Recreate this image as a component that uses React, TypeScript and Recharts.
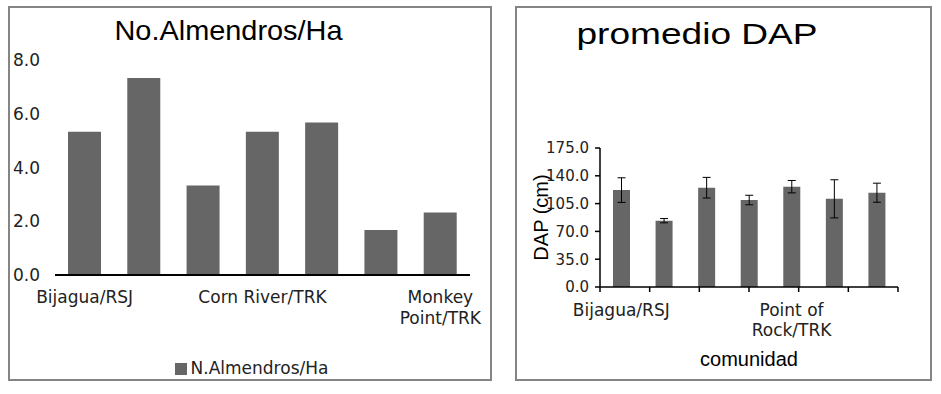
import * as React from 'react';
import { BarChart, Bar, XAxis, YAxis, Legend, ErrorBar, Text } from 'recharts';

// No.Almendros/Ha
const almendrosLabels = ['Bijagua/RSJ', '', '', 'Corn River/TRK', '', '', 'Monkey Point/TRK'];
const almendrosValues = [5.33, 7.33, 3.33, 5.33, 5.67, 1.67, 2.33];
const almendrosTicks = [0, 2, 4, 6, 8];

// promedio DAP
const dapLabels = ['Bijagua/RSJ', '', '', '', 'Point of Rock/TRK', '', ''];
const dapValues = [122, 83.5, 125, 109.5, 126.3, 111, 118.7];
const dapErrors = [15.5, 2.7, 13, 6, 7.8, 24, 12];
const dapTicks = [0, 35, 70, 105, 140, 175];

const TICK_FONT = 'DejaVu Sans, Verdana, sans-serif';
const TITLE_FONT = 'Liberation Sans, Arial, sans-serif';
const BAR_FILL = '#666666';
const TEXT = '#222222';

const almendrosData = almendrosValues.map((v, i) => ({ value: v, label: almendrosLabels[i] }));
const dapData = dapValues.map((v, i) => ({ value: v, err: dapErrors[i], label: dapLabels[i] }));
// category boundaries, for the Excel-style tick marks between bars
const dapEdges = dapValues.map((_, i) => i).concat(dapValues.length);

function CategoryTick(props: any) {
  const { x, y, index, labels, gap, lineHeight } = props;
  const label = labels[index];
  if (!label) return <g />;
  return (
    <Text
      x={x}
      y={y + gap}
      width={140}
      textAnchor="middle"
      verticalAnchor="start"
      lineHeight={lineHeight}
      fill={TEXT}
      style={{ fontSize: 17, fontFamily: TICK_FONT }}
    >
      {label}
    </Text>
  );
}

// draws only the small downward mark of a boundary tick
function EdgeMark(props: any) {
  const { x, y } = props;
  return <line x1={x} x2={x} y1={y - 5} y2={y} stroke="#000" strokeWidth={1.5} />;
}

export default function App() {
  return (
    <div style={{ position: 'absolute', left: 0, top: 0, width: 941, height: 394, background: '#fff', fontFamily: TICK_FONT }}>
      <div style={{ position: 'absolute', left: 8, top: 6, width: 484, height: 375, border: '2px solid #858585', boxSizing: 'border-box' }} />
      <div style={{ position: 'absolute', left: 515, top: 6, width: 417, height: 375, border: '2px solid #858585', boxSizing: 'border-box' }} />

      <div style={{ position: 'absolute', left: 0, top: 0 }}>
        <BarChart width={491} height={394} data={almendrosData} margin={{ top: 60, right: 21, bottom: 16, left: 5 }}>
          <XAxis
            height={83}
            interval={0}
            axisLine={{ stroke: '#000', strokeWidth: 2 }}
            tickLine={false}
            tickSize={0}
            tickMargin={0}
            tick={(p: any) => <CategoryTick {...p} labels={almendrosLabels} gap={16} lineHeight={21} />}
          />
          <YAxis
            width={50}
            domain={[0, 8]}
            ticks={almendrosTicks}
            axisLine={false}
            tickLine={false}
            tickSize={0}
            tickMargin={15}
            tickFormatter={(v: number) => v.toFixed(1)}
            tick={{ fill: TEXT, fontSize: 17, fontFamily: TICK_FONT }}
          />
          <Legend
            verticalAlign="bottom"
            align="center"
            height={20}
            iconType="square"
            iconSize={12}
            wrapperStyle={{ left: 22, width: 469, fontSize: 17, fontFamily: TICK_FONT }}
            formatter={(v: string) => <span style={{ color: TEXT }}>{v}</span>}
          />
          <Bar dataKey="value" name="N.Almendros/Ha" fill={BAR_FILL} barSize={33} isAnimationActive={false} legendType="square" />
        </BarChart>
      </div>

      <div style={{ position: 'absolute', left: 515, top: 0 }}>
        <BarChart width={416} height={394} data={dapData} margin={{ top: 148, right: 33, bottom: 23, left: 25 }}>
          {/* axis line and tick marks between categories */}
          <XAxis
            type="number"
            domain={[0, dapValues.length]}
            allowDataOverflow
            ticks={dapEdges}
            interval={0}
            height={1}
            tickLine={false}
            tickSize={0}
            tickMargin={5}
            tick={(p: any) => <EdgeMark {...p} />}
            axisLine={{ stroke: '#000', strokeWidth: 1.5 }}
          />
          <XAxis
            xAxisId="cat"
            height={83}
            interval={0}
            axisLine={false}
            tickLine={false}
            tickSize={0}
            tickMargin={0}
            tick={(p: any) => <CategoryTick {...p} labels={dapLabels} gap={16} lineHeight={20} />}
            label={{ value: 'comunidad', position: 'insideBottom', offset: 5, fill: '#000', fontSize: 20, fontFamily: TITLE_FONT }}
          />
          <YAxis
            width={60}
            domain={[0, 175]}
            ticks={dapTicks}
            axisLine={{ stroke: '#000', strokeWidth: 1.5 }}
            tickLine={{ stroke: '#000', strokeWidth: 1.5 }}
            tickSize={5}
            tickMargin={6}
            tickFormatter={(v: number) => v.toFixed(1)}
            tick={{ fill: TEXT, fontSize: 15, fontFamily: TICK_FONT }}
            label={{
              content: (lp: any) => {
                const vb = lp.viewBox || { x: 25, y: 148, width: 60, height: 139 };
                const cx = vb.x + 8;
                const cy = vb.y + vb.height / 2;
                return (
                  <text x={cx} y={cy} transform={`rotate(-90, ${cx}, ${cy})`} textAnchor="middle" fill="#000" fontSize={20} fontFamily={TITLE_FONT}>
                    DAP (cm)
                  </text>
                );
              },
            }}
          />
          <Bar dataKey="value" xAxisId="cat" fill={BAR_FILL} barSize={17} isAnimationActive={false}>
            <ErrorBar dataKey="err" width={4} stroke="#000" strokeWidth={1} direction="y" />
          </Bar>
        </BarChart>
      </div>

      <svg width={941} height={394} style={{ position: 'absolute', left: 0, top: 0, pointerEvents: 'none' }}>
        <text x={228.5} y={40} textAnchor="middle" fontSize={28} fontFamily={TITLE_FONT} fill="#000" textLength={228} lengthAdjust="spacingAndGlyphs">
          No.Almendros/Ha
        </text>
        <text x={697} y={44} textAnchor="middle" fontSize={29} fontFamily={TITLE_FONT} fill="#000" textLength={241} lengthAdjust="spacingAndGlyphs">
          promedio DAP
        </text>
      </svg>
    </div>
  );
}
